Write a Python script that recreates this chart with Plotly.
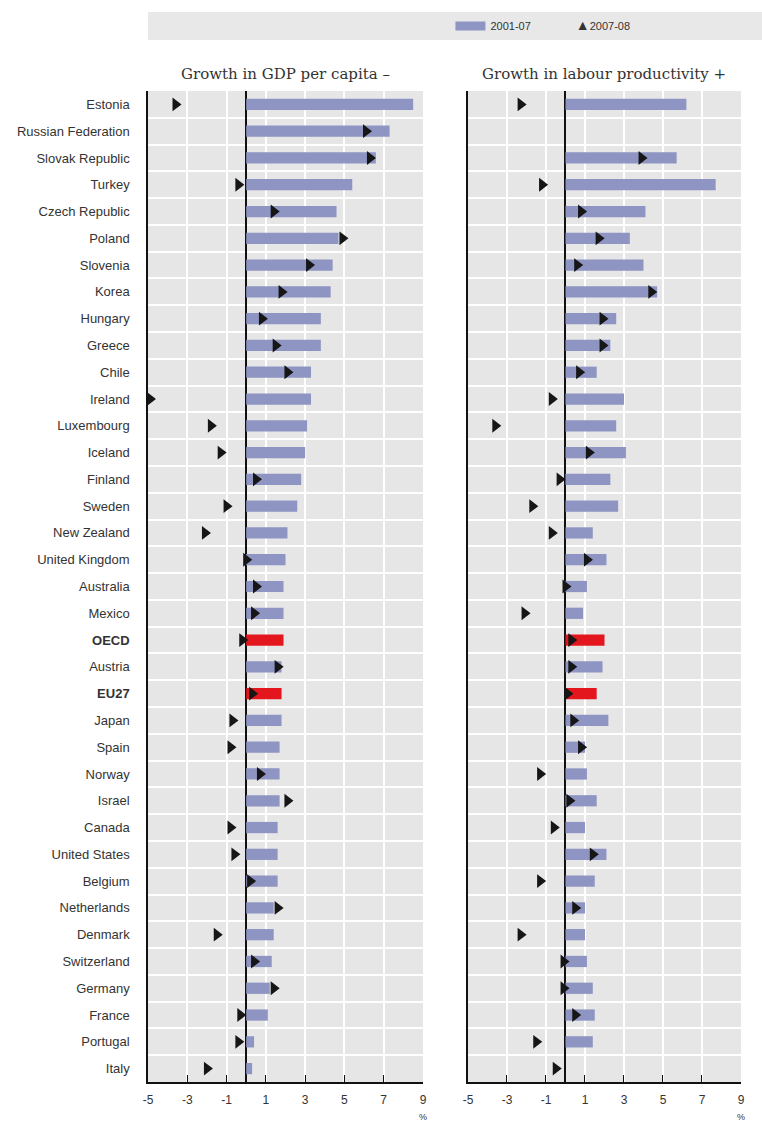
import plotly.graph_objects as go

categories = ["Estonia", "Russian Federation", "Slovak Republic", "Turkey", "Czech Republic",
              "Poland", "Slovenia", "Korea", "Hungary", "Greece", "Chile", "Ireland",
              "Luxembourg", "Iceland", "Finland", "Sweden", "New Zealand", "United Kingdom",
              "Australia", "Mexico", "OECD", "Austria", "EU27", "Japan", "Spain", "Norway",
              "Israel", "Canada", "United States", "Belgium", "Netherlands", "Denmark",
              "Switzerland", "Germany", "France", "Portugal", "Italy"]

gdp_2001_07 = [8.5, 7.3, 6.6, 5.4, 4.6, 4.7, 4.4, 4.3, 3.8, 3.8, 3.3, 3.3, 3.1, 3.0, 2.8,
               2.6, 2.1, 2.0, 1.9, 1.9, 1.9, 1.8, 1.8, 1.8, 1.7, 1.7, 1.7, 1.6, 1.6, 1.6,
               1.4, 1.4, 1.3, 1.2, 1.1, 0.4, 0.3]
gdp_2007_08 = [-3.6, 6.1, 6.3, -0.4, 1.4, 4.9, 3.2, 1.8, 0.8, 1.5, 2.1, -4.9, -1.8, -1.3, 0.5,
               -1.0, -2.1, 0.0, 0.5, 0.4, -0.2, 1.6, 0.3, -0.7, -0.8, 0.7, 2.1, -0.8, -0.6,
               0.2, 1.6, -1.5, 0.4, 1.4, -0.3, -0.4, -2.0]

prod_2001_07 = [6.2, None, 5.7, 7.7, 4.1, 3.3, 4.0, 4.7, 2.6, 2.3, 1.6, 3.0, 2.6, 3.1, 2.3,
                2.7, 1.4, 2.1, 1.1, 0.9, 2.0, 1.9, 1.6, 2.2, 1.0, 1.1, 1.6, 1.0, 2.1, 1.5,
                1.0, 1.0, 1.1, 1.4, 1.5, 1.4, None]
prod_2007_08 = [-2.3, None, 3.9, -1.2, 0.8, 1.7, 0.6, 4.4, 1.9, 1.9, 0.7, -0.7, -3.6, 1.2, -0.3,
                -1.7, -0.7, 1.1, 0.0, -2.1, 0.3, 0.3, 0.1, 0.4, 0.8, -1.3, 0.2, -0.6, 1.4, -1.3,
                0.5, -2.3, -0.1, -0.1, 0.5, -1.5, -0.5]

highlight = ["OECD", "EU27"]
tick_vals = [-5, -3, -1, 1, 3, 5, 7, 9]
tick_labels = ["-5", "-3", "-1", "1", "3", "5", "7", "9"]

BAR = "#8e95c3"
RED = "#e3161d"
MARK = "#161616"
BG = "#e6e6e6"
SANS = "Liberation Sans Narrow, Arial Narrow, Liberation Sans, Arial"
SERIF = "DejaVu Serif, Liberation Serif, serif"

bar_colors = [RED if c in highlight else BAR for c in categories]
tick_text = ["<b>%s</b>" % c if c in highlight else c for c in categories]
n = len(categories)

fig = go.Figure()
for i, (bars, marks) in enumerate([(gdp_2001_07, gdp_2007_08), (prod_2001_07, prod_2007_08)]):
    xa = "x" if i == 0 else "x2"
    ya = "y" if i == 0 else "y2"
    fig.add_trace(go.Bar(y=categories, x=bars, orientation="h", marker=dict(color=bar_colors, line=dict(width=0)),
                         width=0.42, xaxis=xa, yaxis=ya, showlegend=False, name="2001-07"))
    fig.add_trace(go.Scatter(y=categories, x=marks, mode="markers", xaxis=xa, yaxis=ya,
                             marker=dict(symbol="triangle-right", size=12, color=MARK),
                             showlegend=False, name="2007-08", cliponaxis=False))

# legend entries
fig.add_trace(go.Scatter(x=[None], y=[None], mode="lines", line=dict(color=BAR, width=9),
                         name="2001-07", xaxis="x", yaxis="y"))
fig.add_trace(go.Scatter(x=[None], y=[None], mode="markers", marker=dict(size=1, color="rgba(0,0,0,0)"),
                         name="<span style='font-size:14px'>\u25B2</span>2007-08", xaxis="x", yaxis="y"))

xcommon = dict(range=[-5, 9], tickvals=tick_vals, ticktext=tick_labels, ticks="inside", ticklen=7,
               tickcolor="#111", tickwidth=1.3, showgrid=True, gridcolor="white", gridwidth=1.5,
               zeroline=True, zerolinecolor="#111", zerolinewidth=1.5,
               showline=True, linecolor="#111", linewidth=1.5, mirror=False,
               tickfont=dict(family=SANS, size=12, color="#333"), ticklabelstandoff=6, fixedrange=True)
ycommon = dict(categoryorder="array", categoryarray=categories, range=[n - 0.5, -0.5],
               tickson="boundaries", ticks="", showgrid=True, gridcolor="white", gridwidth=1.5,
               showline=True, linecolor="#111", linewidth=1.5, zeroline=False)

fig.update_layout(
    width=762, height=1121,
    margin=dict(l=148, r=21, t=89, b=39),
    paper_bgcolor="white", plot_bgcolor=BG,
    xaxis=dict(domain=[0, 0.4637], **xcommon),
    xaxis2=dict(domain=[0.5396, 1], anchor="y2", **xcommon),
    yaxis=dict(anchor="x", tickvals=categories, ticktext=tick_text, ticklabelstandoff=14,
               tickfont=dict(family=SANS, size=13, color="#333"), **ycommon),
    yaxis2=dict(anchor="x2", showticklabels=False, **ycommon),
    legend=dict(orientation="h", x=0.51, y=1.0655, xanchor="left", yanchor="middle",
                bgcolor="rgba(0,0,0,0)", font=dict(family=SANS, size=11, color="#333"),
                itemwidth=30, traceorder="normal"),
    showlegend=True,
    shapes=[dict(type="rect", xref="paper", yref="paper", x0=0, x1=1.036, y0=1.0514, y1=1.0796,
                 fillcolor="#e8e8e8", line=dict(width=0), layer="below")],
    annotations=[
        dict(text="Growth in GDP per capita \u2013", xref="x domain", yref="y domain", x=0.5, y=1,
             yanchor="middle", yshift=17, showarrow=False, font=dict(family=SERIF, size=15, color="#333")),
        dict(text="Growth in labour productivity +", xref="x2 domain", yref="y2 domain", x=0.5, y=1,
             yanchor="middle", yshift=17, showarrow=False, font=dict(family=SERIF, size=15, color="#333")),
        dict(text="%", xref="x", yref="y domain", x=9, y=0, yanchor="middle", yshift=-35, showarrow=False,
             font=dict(family=SANS, size=9, color="#333")),
        dict(text="%", xref="x2", yref="y2 domain", x=9, y=0, yanchor="middle", yshift=-35, showarrow=False,
             font=dict(family=SANS, size=9, color="#333")),
    ],
)

fig.write_html("out.html")
